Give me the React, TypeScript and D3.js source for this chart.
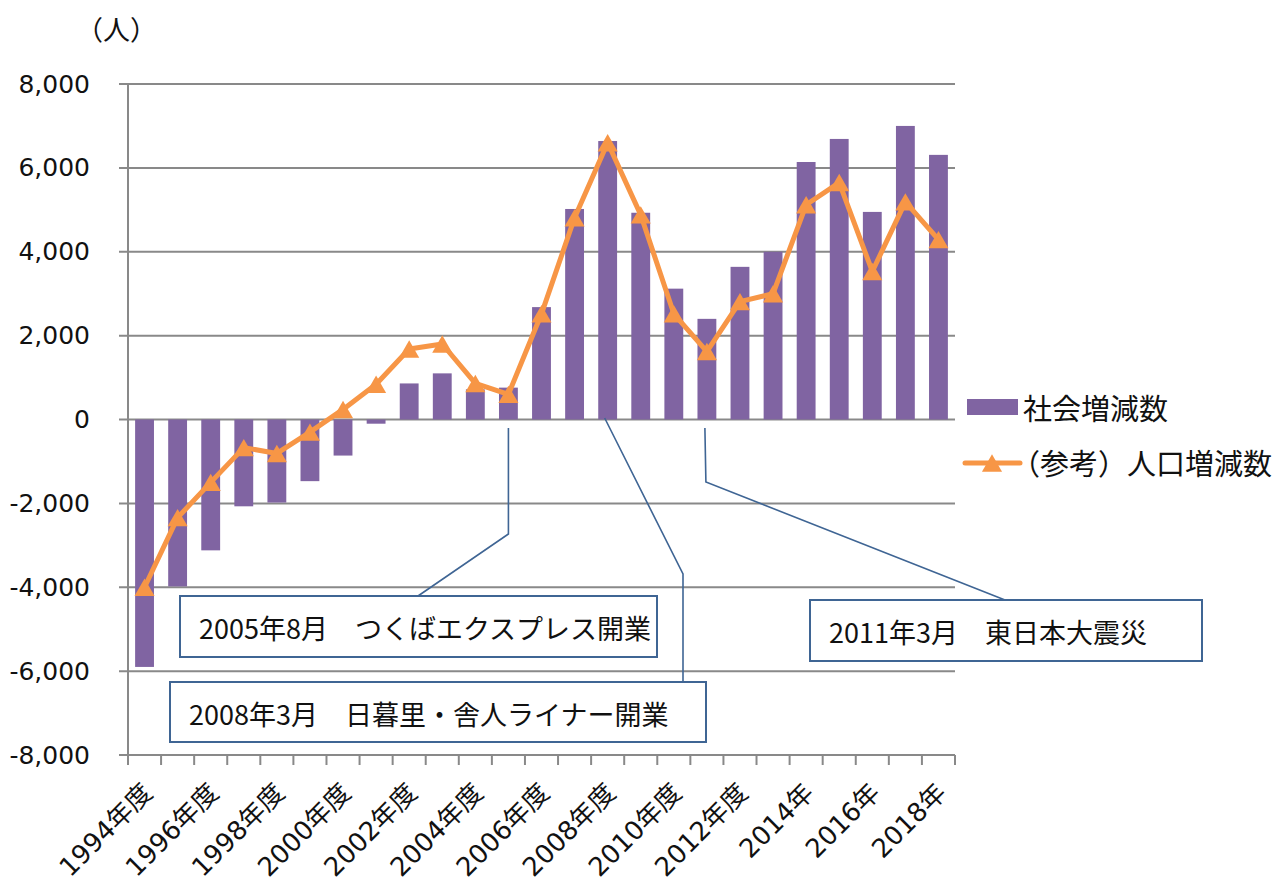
import React, { useEffect } from 'react';
import * as d3 from 'd3';

// categories: fiscal years up to 2013, calendar years after
const categories = [
  '1994年度', '1995年度', '1996年度', '1997年度', '1998年度', '1999年度',
  '2000年度', '2001年度', '2002年度', '2003年度', '2004年度', '2005年度',
  '2006年度', '2007年度', '2008年度', '2009年度', '2010年度', '2011年度',
  '2012年度', '2013年度', '2014年', '2015年', '2016年', '2017年', '2018年',
];

// 社会増減数
const socialChange = [
  -5900, -3980, -3120, -2070, -1980, -1470, -860, -100, 860, 1100, 720, 760,
  2680, 5020, 6640, 4930, 3120, 2400, 3640, 4000, 6140, 6690, 4950, 7000, 6310,
];

// （参考）人口増減数
const populationChange = [
  -4000, -2340, -1500, -670, -810, -300, 240, 840, 1680, 1800, 860, 600,
  2520, 4810, 6600, 4880, 2520, 1620, 2810, 3000, 5120, 5650, 3530, 5190, 4290,
];

const yTicks = [-8000, -6000, -4000, -2000, 0, 2000, 4000, 6000, 8000];

const seriesNames = ['社会増減数', '（参考）人口増減数'];

const calloutTexts = [
  '2005年8月　つくばエクスプレス開業',
  '2008年3月　日暮里・舎人ライナー開業',
  '2011年3月　東日本大震災',
];
const calloutCategories = ['2005年度', '2008年度', '2011年度'];

const W = 1284;
const H = 888;
const plot = { left: 128, right: 955, top: 84, bottom: 755 };

const BAR = '#8064A2';
const LINE = '#F79646';
const GRID = '#898989';
const CALLOUT = '#3F6594';
const JP = '"Noto Sans CJK JP", sans-serif';
const NUM = '"DejaVu Sans", "Noto Sans CJK JP", sans-serif';

const fmt = (v: number) => d3.format(',')(v).replace('\u2212', '-');

export default function App() {
  useEffect(() => {
    document.body.style.margin = '0';
  }, []);

  const x = d3.scaleBand<string>()
    .domain(categories)
    .range([plot.left, plot.right])
    .paddingInner(0.43)
    .paddingOuter(0.215);
  const y = d3.scaleLinear().domain([-8000, 8000]).range([plot.bottom, plot.top]);
  const step = x.step();
  const cx = (c: string) => (x(c) as number) + x.bandwidth() / 2;

  const tri = d3.symbol(d3.symbolTriangle, 175)();
  const triOff = Math.sqrt(175 / (Math.sqrt(3) * 3)) / 2; // centre triangle by its box

  const line = d3.line<number>()
    .x((_, i) => cx(categories[i]))
    .y(d => y(d));

  // callout leader lines: anchor from the category, rest is free placement
  const a0 = cx(calloutCategories[0]);
  const a1 = cx(calloutCategories[1]);
  const a2 = cx(calloutCategories[2]);
  const callouts = [
    { box: [180, 596, 477, 61], path: [[a0, 428], [a0, 534], [418, 596]] },
    { box: [170, 682, 536, 60], path: [[a1 - 3, 418], [683, 574], [683, 682]] },
    { box: [810, 600, 392, 61], path: [[a2 - 2, 428], [a2 - 1, 482], [1005, 600]] },
  ];

  return (
    <svg width={W} height={H} style={{ display: 'block', background: '#fff' }}>
      {/* unit */}
      <text x={76} y={28} dominantBaseline="central" fontFamily={JP} fontSize={27} fill="#111">（人）</text>

      {/* gridlines */}
      {yTicks.map(t => (
        <line key={t} x1={plot.left - 9} x2={plot.right} y1={y(t)} y2={y(t)} stroke={GRID} strokeWidth={2} />
      ))}
      {/* y axis */}
      <line x1={plot.left} x2={plot.left} y1={plot.top} y2={plot.bottom} stroke={GRID} strokeWidth={2} />
      {yTicks.map(t => (
        <text key={t} x={90} y={y(t)} textAnchor="end" dominantBaseline="central"
          fontFamily={NUM} fontSize={25} fill="#111">{fmt(t)}</text>
      ))}

      {/* x axis ticks */}
      {d3.range(categories.length + 1).map(i => (
        <line key={i} x1={plot.left + i * step} x2={plot.left + i * step} y1={plot.bottom} y2={plot.bottom + 10}
          stroke={GRID} strokeWidth={2} />
      ))}
      {categories.map((c, i) => i % 2 === 0 && (
        <text key={c} transform={`translate(${cx(c) + 3},788) rotate(-45)`} textAnchor="end"
          dominantBaseline="central" fontFamily={NUM} fontSize={26} fill="#111">{c}</text>
      ))}

      {/* bars */}
      {socialChange.map((v, i) => (
        <rect key={i} x={x(categories[i])} width={x.bandwidth()}
          y={Math.min(y(v), y(0))} height={Math.abs(y(v) - y(0))} fill={BAR} />
      ))}

      {/* line */}
      <path d={line(populationChange) || ''} fill="none" stroke={LINE} strokeWidth={5} strokeLinejoin="round" />
      {populationChange.map((v, i) => (
        <path key={i} d={tri || ''} transform={`translate(${cx(categories[i])},${y(v) + triOff})`} fill={LINE} />
      ))}

      {/* callouts */}
      {callouts.map((c, i) => (
        <g key={i}>
          <polyline points={c.path.map(p => p.join(',')).join(' ')} fill="none" stroke={CALLOUT} strokeWidth={1.6} />
          <rect x={c.box[0]} y={c.box[1]} width={c.box[2]} height={c.box[3]} fill="#fff" stroke={CALLOUT} strokeWidth={2} />
          <text x={c.box[0] + 19} y={c.box[1] + c.box[3] / 2 + 1} dominantBaseline="central"
            fontFamily={JP} fontSize={27} fill="#111">{calloutTexts[i]}</text>
        </g>
      ))}

      {/* legend */}
      <rect x={967} y={399} width={51} height={16} fill={BAR} />
      <text x={1023} y={407} dominantBaseline="central" fontFamily={JP} fontSize={29} fill="#111">{seriesNames[0]}</text>
      <line x1={965} x2={1020} y1={463} y2={463} stroke={LINE} strokeWidth={5} strokeLinecap="round" />
      <path d={tri || ''} transform={`translate(992,${463 + triOff})`} fill={LINE} />
      <text x={1011} y={462} dominantBaseline="central" fontFamily={JP} fontSize={29} fill="#111">{seriesNames[1]}</text>
    </svg>
  );
}
